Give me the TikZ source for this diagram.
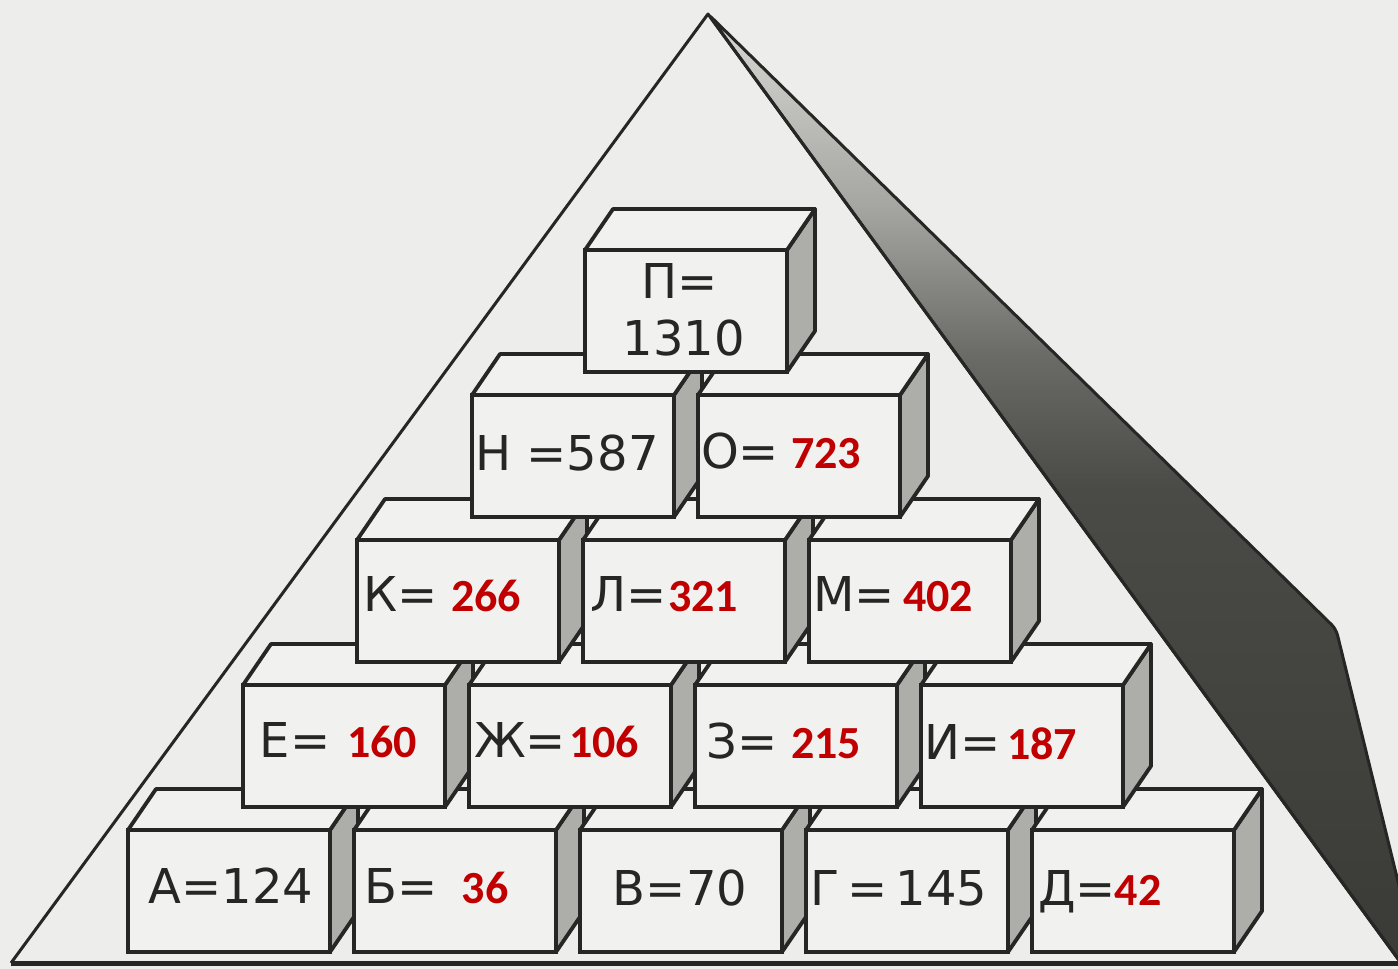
\documentclass[tikz,border=0pt]{standalone}
\usepackage{fontspec}
\newfontfamily\blackfont{DejaVu Sans}
\newfontfamily\redfont{Carlito}
\usetikzlibrary{calc}
\definecolor{Ink}{HTML}{262624}
\definecolor{Paper}{HTML}{EDEDEB}
\definecolor{Face}{HTML}{F1F1EF}
\definecolor{Side}{HTML}{ADADA9}
\definecolor{Mark}{HTML}{C00000}
\definecolor{ShadeTop}{HTML}{D8D8D4}
\definecolor{ShadeUp}{HTML}{A6A6A2}
\definecolor{ShadeMid}{HTML}{6A6A66}
\definecolor{ShadeDeep}{HTML}{4A4A46}
\definecolor{ShadeLow}{HTML}{3A3A36}
\pgfdeclareverticalshading{pyrshadow}{100bp}{color(0bp)=(ShadeLow); color(25bp)=(ShadeLow); color(50bp)=(ShadeDeep); color(57bp)=(ShadeMid); color(65bp)=(ShadeUp); color(75bp)=(ShadeTop); color(100bp)=(ShadeTop)}
\tikzset{
pyrline/.style={draw=Ink, line width=1.5pt, line join=round},
brickfront/.style={draw=Ink, line width=1.9pt, fill=Face, minimum width=101pt, minimum height=61pt, inner sep=0pt, outer sep=0pt},
brickside/.style={draw=Ink, line width=1.9pt, fill=Side, line join=round},
bricktop/.style={draw=Ink, line width=1.9pt, fill=Face, line join=round},
inktext/.style={font=\blackfont\fontsize{24}{24}\selectfont, text=Ink, inner sep=0pt, anchor=base},
marktext/.style={font=\redfont\bfseries\fontsize{23}{23}\selectfont, text=Mark, inner sep=0pt, anchor=base}
}
% one block: front face node, then its side and top faces
\newcommand{\placebrick}[3]{%
  \node[brickfront] (#1) at (#2,#3) {};
  \draw[brickside] (#1.north east) -- ++(28,-41) -- ++(0,122) -- (#1.south east) -- cycle;
  \draw[bricktop] (#1.north west) -- ++(28,-41) -- ++(202,0) -- (#1.north east) -- cycle;
}
\begin{document}
\begin{tikzpicture}[x=0.5pt, y=-0.5pt]
  \useasboundingbox (0,0) rectangle (1398,969);
  \clip (0,0) rectangle (1398,969);
  \fill[Paper] (0,0) rectangle (1398,969);
  \coordinate (apex) at (708,14);
  \coordinate (baseL) at (11,963);
  \coordinate (baseR) at (1401,963);
  \coordinate (bend) at (1336,629);
  \coordinate (foot) at (1418,963);
  % pyramid shadow and outline
  \shadedraw[shading=pyrshadow, draw=Ink, line width=1.5pt, rounded corners=3pt]
    (apex) -- (bend) -- (foot) -- (baseR) -- cycle;
  \draw[pyrline] (baseL) -- (apex) -- (baseR);
  \draw[draw=Ink, line width=2.5pt] (baseL) -- (baseR);
  % bottom row
  \placebrick{bA}{229}{891}
  \placebrick{bB}{455}{891}
  \placebrick{bV}{681}{891}
  \placebrick{bG}{907}{891}
  \placebrick{bD}{1133}{891}
  % second row
  \placebrick{bE}{344}{746}
  \placebrick{bZh}{570}{746}
  \placebrick{bZ}{796}{746}
  \placebrick{bI}{1022}{746}
  % third row
  \placebrick{bK}{458}{601}
  \placebrick{bL}{684}{601}
  \placebrick{bM}{910}{601}
  % fourth row
  \placebrick{bN}{573}{456}
  \placebrick{bO}{799}{456}
  % top
  \placebrick{bP}{686}{311}
  % labels
  \node[inktext] (lA) at (231,903) {А=124};
  \node[inktext] (lB) at (401,903) {Б=};
  \node[marktext] (vB) at (485,903) {36};
  \node[inktext] (lV) at (680,905) {В=70};
  \node[inktext] (lG) at (899,905) {Г\thinspace=\thinspace145};
  \node[inktext] (lD) at (1077,905) {Д=};
  \node[marktext] (vD) at (1138,905) {42};
  \node[inktext] (lE) at (295,757) {Е=};
  \node[marktext] (vE) at (382,757) {160};
  \node[inktext] (lZh) at (520,757) {Ж=};
  \node[marktext] (vZh) at (604,757) {106};
  \node[inktext] (lZ) at (742,758) {З=};
  \node[marktext] (vZ) at (826,758) {215};
  \node[inktext] (lI) at (963,759) {И=};
  \node[marktext] (vI) at (1042,759) {187};
  \node[inktext] (lK) at (401,611) {К=};
  \node[marktext] (vK) at (486,611) {266};
  \node[inktext] (lL) at (629,611) {Л=};
  \node[marktext] (vL) at (703,611) {321};
  \node[inktext] (lM) at (854,611) {М=};
  \node[marktext] (vM) at (938,611) {402};
  \node[inktext] (lN) at (567,470) {Н =587};
  \node[inktext] (lO) at (740,468) {О=};
  \node[marktext] (vO) at (826,468) {723};
  \node[inktext] (lP) at (680,298) {П=};
  \node[inktext] (vP) at (684,355) {1310};
\end{tikzpicture}
\end{document}
